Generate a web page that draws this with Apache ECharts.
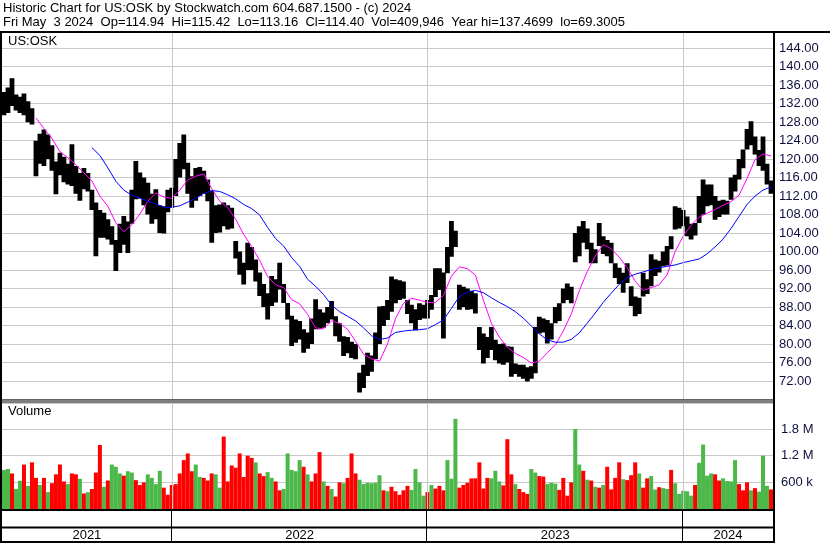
<!DOCTYPE html>
<html><head><meta charset="utf-8">
<script src="https://cdn.jsdelivr.net/npm/echarts@6/dist/echarts.min.js"></script>
<style>html,body{margin:0;padding:0;background:#fff}#c{width:830px;height:543px}</style>
</head><body><div id="c"></div>
<script>
// ---- DATA (each bar = ~4 trading days) ----
const priceLow = [129.5,130,131.5,130.5,130,129.5,128,127.5,116.3,119,118.5,120,117.5,112.4,116.5,115,114.5,114.2,112.5,111,
113.5,113,109,99,103,103,102.6,101.5,95.8,99.7,101.5,99.7,106,111.3,111.5,110,108,106,107,104,
103.9,108.5,109.5,112,116,117.8,112.5,109.5,111,112,112.5,110.9,101.9,104,104.1,105.5,104.8,105,98.5,95,
92.9,96,96,93.5,90.4,88,85.3,88.2,89,91.8,88.9,85.3,79.6,80.3,81,78.1,79,80,83.2,83.2,
83.5,84.5,85.3,81.7,80.5,77.4,78,77,76.7,69.5,70.5,73.1,74,76.7,80,83.9,85.2,87,88.8,89.5,
89.8,86.5,84.5,83,85.2,85.5,85.5,87.4,90.2,91.7,81.2,95.3,98.9,101,87.4,88,87.4,87.5,86.6,78.7,
75.8,77,78.7,76.5,75.8,75.5,76,72.9,73.5,72.9,72.5,71.9,72.5,73.7,82.3,82.5,80.1,81,84.5,85,
88.8,89.5,88.8,97.7,99,101.9,100.5,97.5,97.5,101.2,99.5,99,97.5,94.3,93,91.1,93.2,88.2,86,86.5,
90.3,90.8,92.5,94.7,95.5,96.8,97,100.5,104.8,105,105.5,103.3,102.6,103.5,106.2,108,109.8,110,106.9,107.5,
108,108,111.2,113,115.6,118,122.1,123,121,118.5,117.5,114.5,112.5];
const priceHigh = [134.5,135.5,137.5,134,133.5,134.2,132.5,131,124,125.5,126.4,125.3,123,119.5,121.4,120.5,119,123.2,118.5,117,
118.1,117,113.4,110.6,109,108.4,107,105.5,102.5,106,107.7,106.5,113.4,119.6,117.1,116,114.9,112.5,113.5,110,
109.8,113.4,113.8,120,123.5,125.3,119.2,116.3,118.1,118.3,117.5,115.6,113.1,110,110.2,110.6,110,109.5,102.3,100,
97.6,101.9,101,98.3,95.5,93,91,94.7,94,97.6,93,88.9,86.1,85.3,85,83.2,82.5,85.5,89.7,87.5,
86.8,88,89.3,86,84.5,81.7,81.5,80.5,80,73.8,75.5,78.1,77.5,82.5,88.1,88.2,89.5,94.6,94,93.8,
93.5,89.5,88.5,87.5,88.8,88.5,89.5,90.6,96.4,96.4,95.5,101,106.6,104.5,92.8,92.4,92,91.5,91,83.7,
82.3,81.5,83.7,80.9,80,80.1,79.5,79.4,75.8,75.5,75.5,75,75.2,83.7,85.9,85.5,85.2,84.5,88,88.8,
92,93.1,92.4,104,105.5,106.6,105,101.9,100.5,106.2,103.3,102.5,101.9,97.5,96.5,95.4,97.5,92.5,90.3,90,
95.4,94,99.4,98.3,98,100,101.2,103.3,109.8,109.5,109,107.6,106,106.2,112,115.6,114.5,114.5,112,111,
111.2,111,116,116.6,120,122.1,126.5,128.2,124.9,122,124.9,119,115.4];
// moving averages, one value every 2 bars
const maFastStart = 8;
const maFast = [128.9,126.6,124.5,121.6,120.3,118.8,117,115.3,112,109.8,106.2,104.3,105.8,108.1,110.9,112.7,111.8,111.5,113.3,115.5,
116.3,116.8,113.6,110.9,109.5,107,103.7,101.1,98.1,94.6,92.8,92.2,89.6,88.7,86.4,83.5,83.3,85,84.5,83.2,
80.6,77.8,76.8,76.3,80,85.5,88.8,89.9,89.5,89,89,90.5,94.7,96.7,96.3,94.9,89.5,84.5,81.5,79.3,
78,77.1,75.9,76.3,78.1,79.8,82.8,86.5,91.5,95.7,99,101.5,100.6,98.8,96.5,93.6,91.6,92.2,92.8,95,
100,103.3,105.7,107.4,108.3,109.1,110,110.8,112.2,115.8,119.9,121.1,120.7];
const maSlowStart = 22;
const maSlow = [122.5,120.8,118.1,115.2,113.3,112.2,111.6,110.9,110.3,109.6,109.6,109.9,110.7,111.5,112.6,113.2,113,112.3,111.4,110.2,
109.3,107.9,105.2,102.8,101.2,98.7,96.8,94,92.5,90.7,88.4,87,86,85,83.5,81.8,81,81.3,82.5,82.8,
83,83.1,83.3,84.2,85.2,87.7,90.3,91.2,91.6,91.1,90,89,88.1,87,85.6,83.9,82.2,80.9,80.4,80.4,
81,82.4,84.5,86.7,89,91,92.9,94.4,95.1,95.6,96.1,96.5,96.8,97.1,97.6,98,98.4,99.5,101,102.7,
105,107.6,110.2,112,113.3,114];
// volume in thousands of shares
const volume = [880,900,800,450,635,1000,520,1050,700,540,700,380,580,780,1000,620,560,800,780,680,
350,380,450,820,1440,500,640,1000,950,800,750,850,820,650,540,600,780,700,560,860,
480,320,540,560,800,1100,1250,850,1000,720,700,640,800,780,480,1630,620,980,930,1250,
720,1200,1150,1050,800,740,830,700,620,420,450,1250,880,850,1100,950,780,620,800,1280,
620,520,450,280,600,580,700,1250,800,660,560,590,580,590,760,420,400,500,400,320,
420,520,430,900,600,300,380,540,460,520,420,1100,680,2030,480,540,590,690,690,1050,
460,700,690,860,620,530,1570,780,560,450,380,340,900,820,740,730,560,590,570,430,
700,300,600,1800,1000,860,660,640,500,480,540,950,440,700,1050,670,650,760,1050,800,
480,690,740,440,490,470,450,880,580,340,410,400,300,540,1040,1450,750,800,780,640,
690,630,620,1100,560,420,600,420,470,390,1200,520,440];
const volDir = "ggrggrgrrgrgrrrrgrrgrgrrrgrgggrggrrrggggrrrrrrrrggrrrggrrrrrrrrgrrggrrgggggrgrrrgrgrrgrrrggggggrgrrrrrggggrgrrrgggrrrrrrrrgggrrrgrrrggrrgggrrrrggrgrgrgrrrrgrrrgrrggrggrgggggrggggrrggggrrrgrgggrrrgrggggrggrrrgrrgrr";
const yearLabels = ['2021','2022','2023','2024'];
const yearBounds = [0, 42.5, 106.5, 170.5, 193];
const priceTickStep = 4;
const volTickStep = 600;

const RED = '#ff0000', GREEN = '#4cb84a';
const FONT = 'Liberation Sans, Arial, sans-serif';
const N = 193;

const chart = echarts.init(document.getElementById('c'), null, {renderer: 'canvas'});
const xBase = {type: 'value', min: 0, max: N, show: false};
const gridGray = '#c8c8c8';

const yearRender = (params, api) => {
  const s = api.value(0), e = api.value(1);
  const p0 = api.coord([s, 0]), p1 = api.coord([e, 0]);
  const top = params.coordSys.y, h = params.coordSys.height;
  const children = [{type: 'text', style: {text: yearLabels[params.dataIndex], x: (p0[0] + p1[0]) / 2, y: top + h / 2 + 1,
    align: 'center', verticalAlign: 'middle', font: '13px ' + FONT, fill: '#000'}}];
  if (s > 0) children.push({type: 'rect', shape: {x: Math.round(p0[0]) - 1, y: top, width: 1, height: h}, style: {fill: '#000'}});
  return {type: 'group', children};
};
const sepRender = (params, api) => {
  const s = api.value(0);
  const p0 = api.coord([s, 0]);
  const top = params.coordSys.y, h = params.coordSys.height;
  if (s <= 0) return null;
  return {type: 'rect', shape: {x: Math.round(p0[0]) - 1, y: top, width: 1, height: h}, style: {fill: '#000'}};
};
const yearData = yearLabels.map((y, k) => [yearBounds[k], yearBounds[k + 1]]);
const yearMarks = {silent: true, symbol: 'none', label: {show: false},
  lineStyle: {color: gridGray, width: 1, type: 'solid'},
  data: yearBounds.slice(1, -1).map(v => ({xAxis: v}))};

chart.setOption({
  animation: false,
  backgroundColor: '#fff',
  grid: [
    {left: 2, top: 32, width: 771, height: 367.5},
    {left: 2, top: 403, width: 771, height: 106},
    {left: 2, top: 511, width: 771, height: 16},
    {left: 2, top: 528, width: 771, height: 13}
  ],
  xAxis: [
    Object.assign({gridIndex: 0}, xBase),
    Object.assign({gridIndex: 1}, xBase),
    Object.assign({gridIndex: 2}, xBase),
    Object.assign({gridIndex: 3}, xBase)
  ],
  yAxis: [
    {gridIndex: 0, type: 'value', position: 'right', min: 68, max: 147.5, interval: priceTickStep,
      axisLine: {show: false}, axisTick: {show: false},
      splitLine: {lineStyle: {color: gridGray, width: 1}},
      axisLabel: {showMinLabel: false, showMaxLabel: false, margin: 6, fontSize: 13, fontFamily: FONT, color: '#101040',
        formatter: v => v.toFixed(2)}},
    {gridIndex: 1, type: 'value', position: 'right', min: 0, max: 2385, interval: volTickStep,
      axisLine: {show: false}, axisTick: {show: false},
      splitLine: {lineStyle: {color: gridGray, width: 1}},
      axisLabel: {showMinLabel: false, showMaxLabel: false, margin: 8, fontSize: 13, fontFamily: FONT, color: '#101040',
        formatter: v => v >= 1000 ? (v / 1000).toFixed(1) + ' M' : v + ' k'}},
    {gridIndex: 2, type: 'value', min: 0, max: 1, show: false},
    {gridIndex: 3, type: 'value', min: 0, max: 1, show: false}
  ],
  series: [
    {type: 'custom', xAxisIndex: 0, yAxisIndex: 0, silent: true, clip: true,
      data: priceLow.map((l, i) => [i + 0.5, l, priceHigh[i]]),
      encode: {x: 0, y: [1, 2]},
      renderItem: (params, api) => {
        const x = api.value(0);
        const a = api.coord([x, api.value(2)]), b = api.coord([x, api.value(1)]);
        const w = api.size([1, 0])[0];
        return {type: 'rect', shape: {x: a[0] - w / 2 - 0.4, y: a[1], width: w + 0.8, height: Math.max(1, b[1] - a[1])},
          style: {fill: '#000'}};
      },
      markLine: yearMarks, z: 3},
    {type: 'line', xAxisIndex: 0, yAxisIndex: 0, silent: true, showSymbol: false, smooth: false, z: 4,
      data: maFast.map((v, k) => [maFastStart + 2 * k + 0.5, v]),
      lineStyle: {color: '#ff00ff', width: 1}},
    {type: 'line', xAxisIndex: 0, yAxisIndex: 0, silent: true, showSymbol: false, smooth: false, z: 4,
      data: maSlow.map((v, k) => [maSlowStart + 2 * k + 0.5, v]),
      lineStyle: {color: '#0000ff', width: 1}},
    {type: 'bar', xAxisIndex: 1, yAxisIndex: 1, silent: true, barWidth: 4,
      data: volume.map((v, i) => [i + 0.5, v]),
      itemStyle: {color: p => volDir[p.dataIndex] === 'r' ? RED : GREEN},
      markLine: yearMarks},
    {type: 'custom', xAxisIndex: 2, yAxisIndex: 2, silent: true, data: yearData, renderItem: sepRender},
    {type: 'custom', xAxisIndex: 3, yAxisIndex: 3, silent: true, data: yearData, renderItem: yearRender}
  ],
  graphic: [
    {type: 'text', left: 3, top: 2, style: {text: 'Historic Chart for US:OSK by Stockwatch.com 604.687.1500 - (c) 2024', font: '13px ' + FONT, fill: '#000'}},
    {type: 'text', left: 3, top: 16, style: {text: 'Fri May  3 2024  Op=114.94  Hi=115.42  Lo=113.16  Cl=114.40  Vol=409,946  Year hi=137.4699  lo=69.3005', font: '13px ' + FONT, fill: '#000'}},
    {type: 'text', left: 8, top: 35, z: 10, style: {text: 'US:OSK', font: '13px ' + FONT, fill: '#000'}},
    {type: 'text', left: 8, top: 405, z: 10, style: {text: 'Volume', font: '13px ' + FONT, fill: '#000'}},
    {type: 'rect', z: 20, shape: {x: 0, y: 31, width: 830, height: 2}, style: {fill: '#000'}},
    {type: 'rect', z: 20, shape: {x: 0, y: 31, width: 2, height: 512}, style: {fill: '#000'}},
    {type: 'rect', z: 20, shape: {x: 773, y: 31, width: 2, height: 512}, style: {fill: '#000'}},
    {type: 'rect', z: 20, shape: {x: 0, y: 399.5, width: 775, height: 1}, style: {fill: '#000'}},
    {type: 'rect', z: 20, shape: {x: 0, y: 401.5, width: 775, height: 1}, style: {fill: '#000'}},
    {type: 'rect', z: 20, shape: {x: 0, y: 509, width: 775, height: 2}, style: {fill: '#000'}},
    {type: 'rect', z: 20, shape: {x: 0, y: 526.5, width: 775, height: 2}, style: {fill: '#000'}},
    {type: 'rect', z: 20, shape: {x: 0, y: 541, width: 775, height: 2}, style: {fill: '#000'}}
  ]
});
</script></body></html>
